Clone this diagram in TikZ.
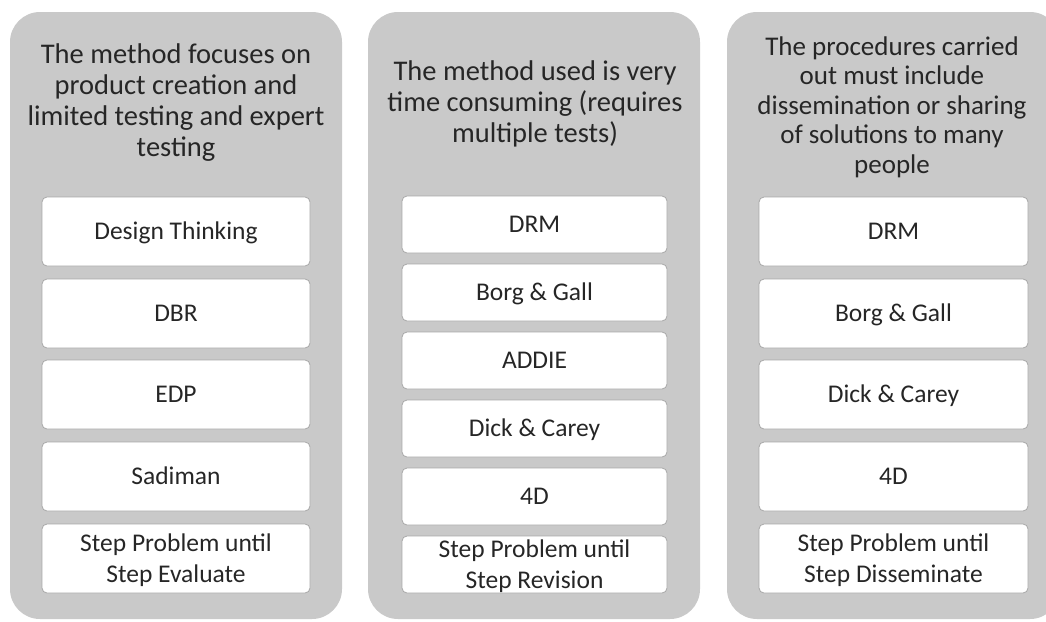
\documentclass[tikz,border=0pt]{standalone}
\usepackage{fontspec}
\setmainfont{Carlito}
\definecolor{panelgrey}{RGB}{201,201,201}
\definecolor{edgegrey}{RGB}{168,168,168}
\definecolor{ink}{RGB}{38,38,38}
\begin{document}
\begin{tikzpicture}[x=1pt,y=-1pt,
  panel/.style={fill=panelgrey, draw=none, rounded corners=30pt,
    minimum width=332pt, minimum height=607pt, inner sep=0pt},
  heading/.style={anchor=base, inner sep=0pt, text=ink,
    font=\fontsize{28.5}{31}\selectfont},
  item/.style={draw=edgegrey, line width=0.8pt, fill=white,
    rounded corners=5pt, inner sep=0pt, text=ink,
    font=\fontsize{25.5}{31}\selectfont, text height=16.4pt, text depth=0pt},
  widebox/.style={item, minimum width=268pt, minimum height=69pt},
  slimbox/.style={item, minimum width=265pt, minimum height=57pt},
  twoline/.style={text depth=31pt}
]
\useasboundingbox (0,0) rectangle (1046,621);
\clip (0,0) rectangle (1046,621);

% three grey columns
\node[panel] (p1) at (176,315.5) {};
\node[panel] (p2) at (534,315.5) {};
\node[panel, minimum width=333pt] (p3) at (893.5,315.5) {};

% column headings
\node[heading] (h1) at (176,63) {\parbox[t]{330pt}{\centering
  The method focuses on\\product creation and\\limited testing and expert\\testing}};
\node[heading] (h2) at (535,80) {\parbox[t]{330pt}{\centering
  The method used is very\\time consuming (requires\\multiple tests)}};
\node[heading, font=\fontsize{27}{29.5}\selectfont] (h3) at (892,55) {\parbox[t]{330pt}{\centering
  The procedures carried\\out must include\\dissemination or sharing\\of solutions to many\\people}};

% first column
\node[widebox] (a1) at (176,231.5) {Design Thinking};
\node[widebox] (a2) at (176,313.5) {DBR};
\node[widebox] (a3) at (176,394.5) {EDP};
\node[widebox] (a4) at (176,476.5) {Sadiman};
\node[widebox, twoline] (a5) at (176,558.5) {\parbox[t]{268pt}{\centering
  Step Problem until\\Step Evaluate}};

% second column
\node[slimbox] (b1) at (534.5,224.5) {DRM};
\node[slimbox] (b2) at (534.5,292.5) {Borg \& Gall};
\node[slimbox] (b3) at (534.5,360.5) {ADDIE};
\node[slimbox] (b4) at (534.5,428.5) {Dick \& Carey};
\node[slimbox] (b5) at (534.5,496.5) {4D};
\node[slimbox, twoline] (b6) at (534.5,564.5) {\parbox[t]{265pt}{\centering
  Step Problem until\\Step Revision}};

% third column
\node[widebox, minimum width=269pt] (c1) at (893.5,231.5) {DRM};
\node[widebox, minimum width=269pt] (c2) at (893.5,313.5) {Borg \& Gall};
\node[widebox, minimum width=269pt] (c3) at (893.5,394.5) {Dick \& Carey};
\node[widebox, minimum width=269pt] (c4) at (893.5,476.5) {4D};
\node[widebox, minimum width=269pt, twoline] (c5) at (893.5,558.5) {\parbox[t]{269pt}{\centering
  Step Problem until\\Step Disseminate}};
\end{tikzpicture}
\end{document}
